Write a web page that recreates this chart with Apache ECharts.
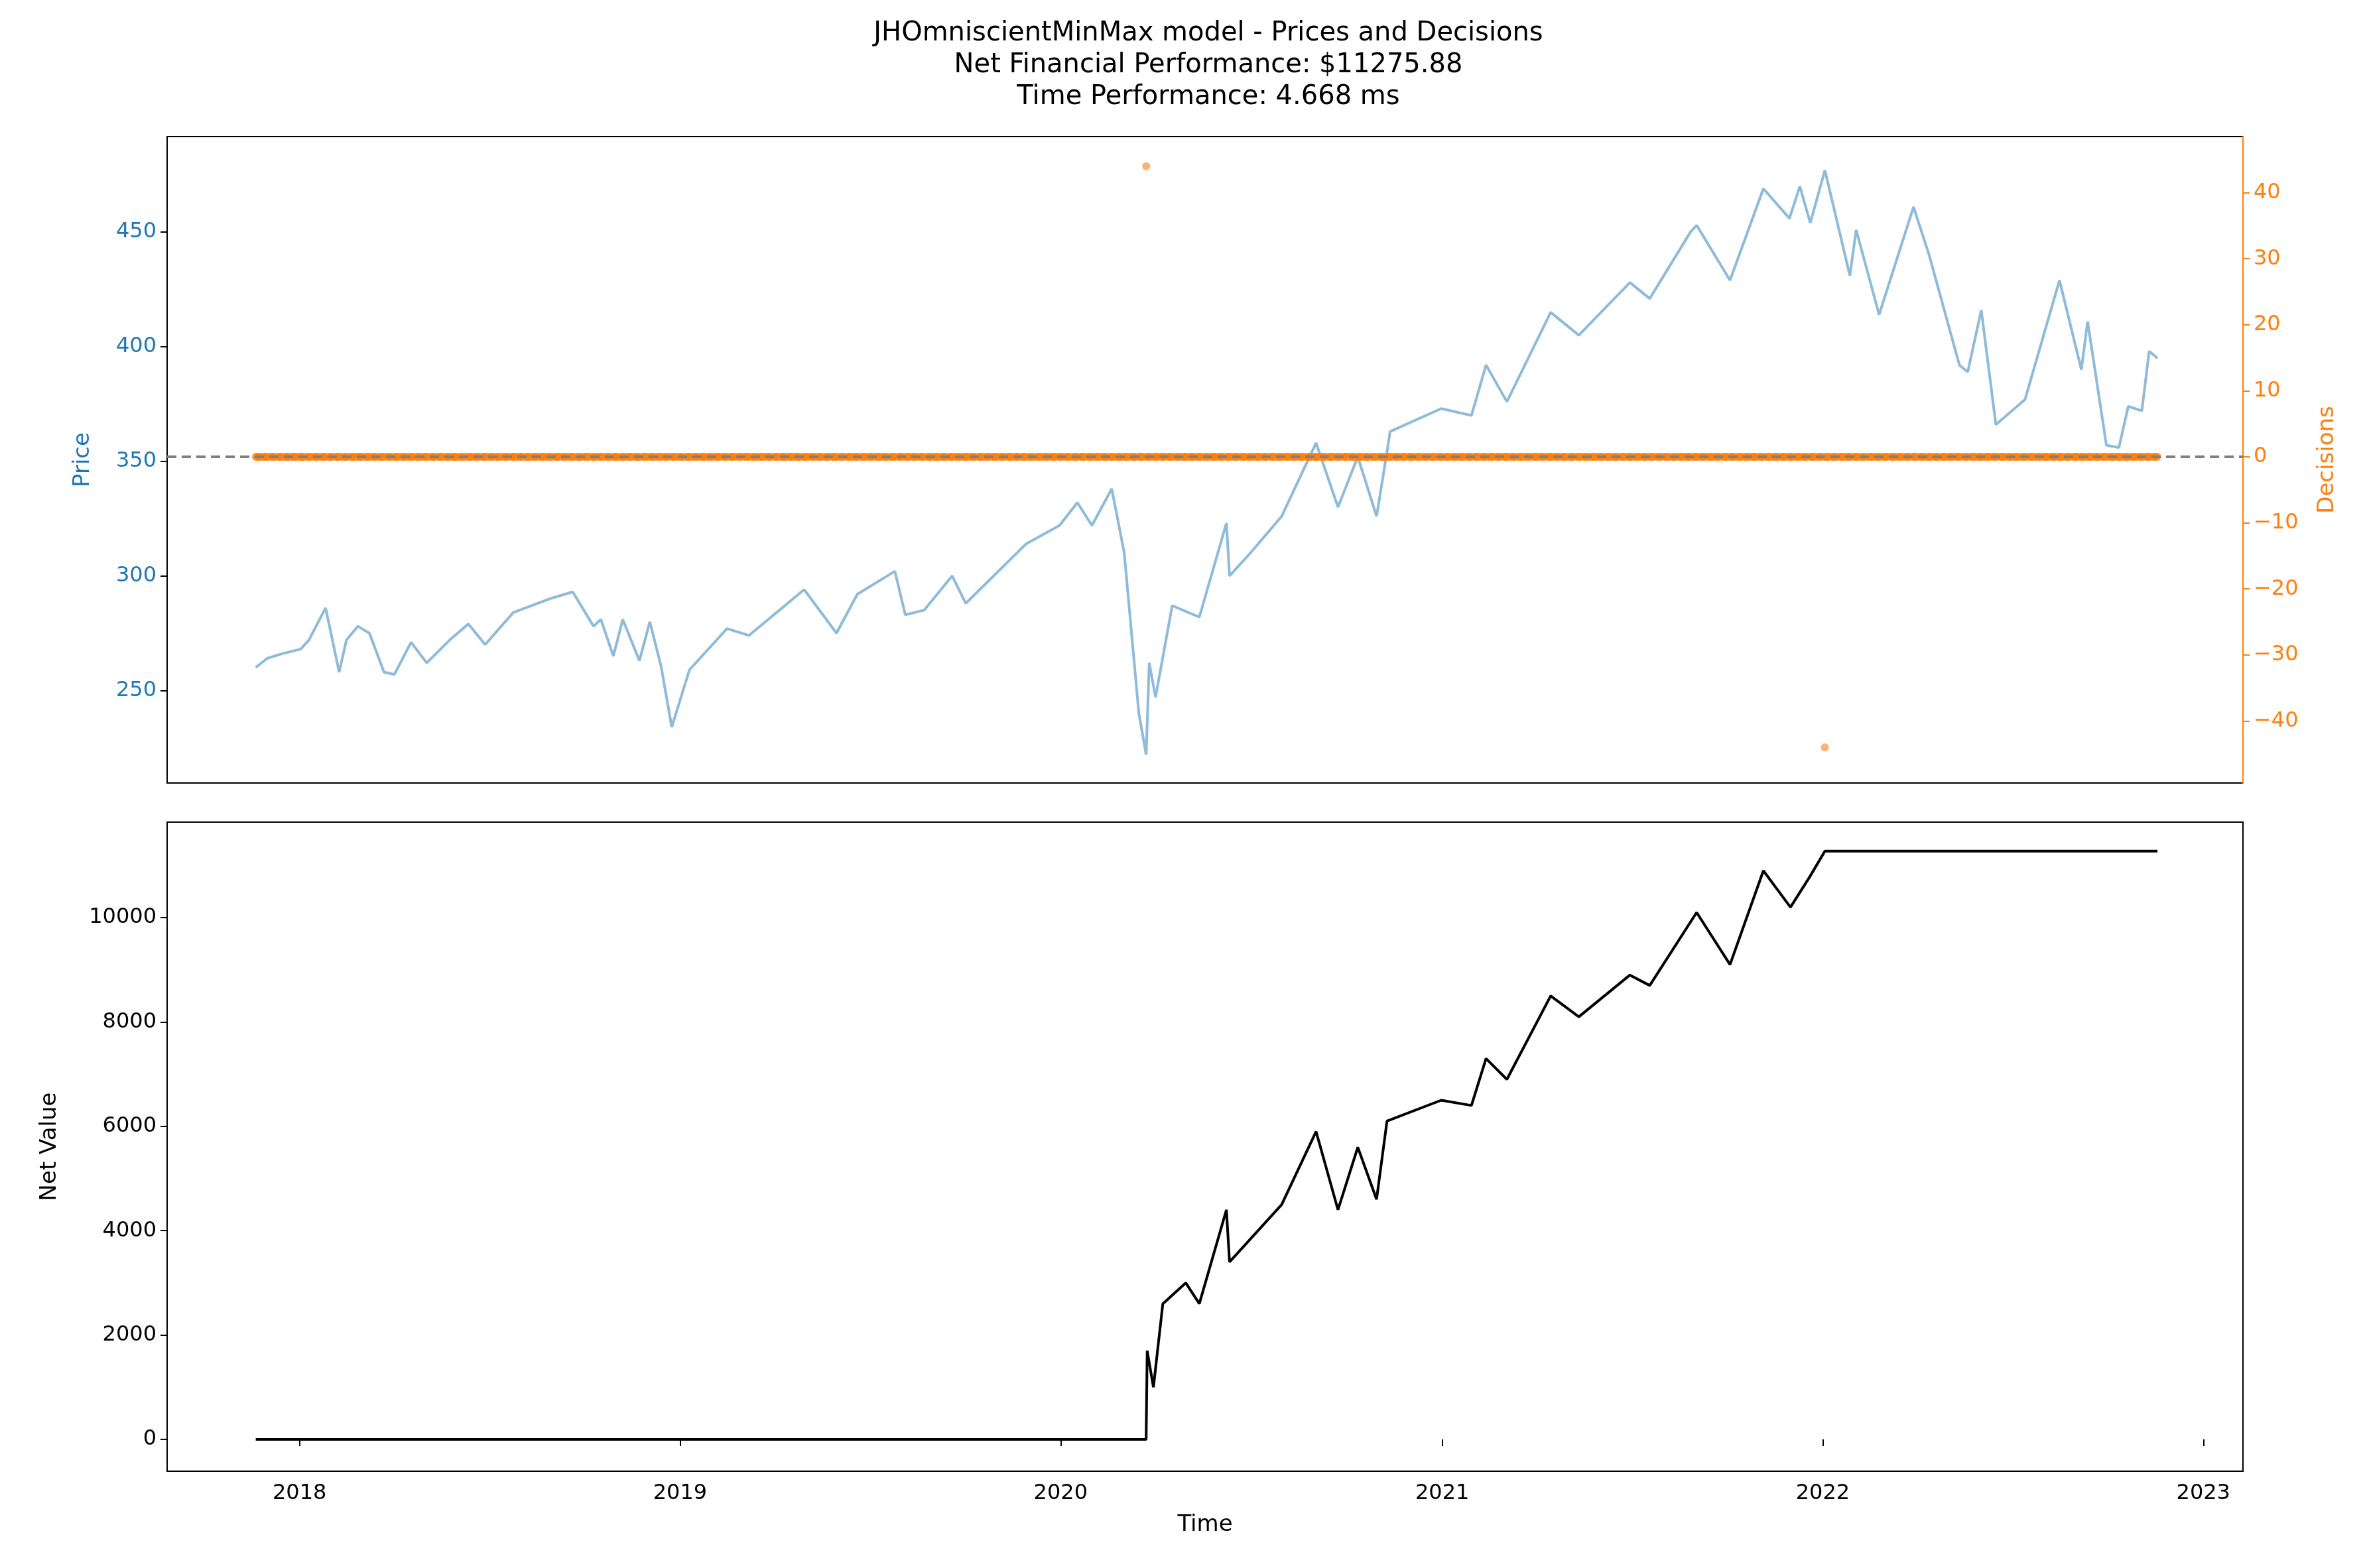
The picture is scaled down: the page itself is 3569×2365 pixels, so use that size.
<!DOCTYPE html>
<html><head><meta charset="utf-8">
<script src="https://cdn.jsdelivr.net/npm/echarts@6/dist/echarts.min.js"></script>
<style>html,body{margin:0;background:#fff}#c{width:3569px;height:2365px}</style>
</head><body><div id="c"></div>
<script>
// price series
var priceDates = ['2017-11-20','2017-12-01','2017-12-15','2018-01-02','2018-01-10','2018-01-26','2018-02-08','2018-02-15','2018-02-26','2018-03-09','2018-03-23','2018-04-02','2018-04-18','2018-05-03','2018-05-25','2018-06-12','2018-06-28','2018-07-25','2018-08-29','2018-09-20','2018-10-10','2018-10-17','2018-10-29','2018-11-07','2018-11-23','2018-12-03','2018-12-14','2018-12-24','2019-01-10','2019-02-15','2019-03-08','2019-04-30','2019-05-31','2019-06-20','2019-07-26','2019-08-05','2019-08-23','2019-09-19','2019-10-02','2019-11-29','2019-12-31','2020-01-17','2020-01-31','2020-02-19','2020-03-02','2020-03-09','2020-03-16','2020-03-23','2020-03-26','2020-04-01','2020-04-17','2020-05-13','2020-06-08','2020-06-11','2020-07-01','2020-07-31','2020-09-02','2020-09-23','2020-10-12','2020-10-30','2020-11-09','2020-11-12','2020-12-31','2021-01-29','2021-02-12','2021-03-04','2021-04-15','2021-05-12','2021-06-30','2021-07-19','2021-08-27','2021-09-02','2021-10-04','2021-11-05','2021-11-30','2021-12-10','2021-12-20','2022-01-03','2022-01-27','2022-02-02','2022-02-24','2022-03-29','2022-04-13','2022-05-12','2022-05-20','2022-06-02','2022-06-16','2022-07-14','2022-08-16','2022-09-06','2022-09-12','2022-09-30','2022-10-12','2022-10-21','2022-11-03','2022-11-10','2022-11-18'];
var priceValues = [260,264,266,268,272,286,258,272,278,275,258,257,271,262,272,279,270,284,290,293,278,281,265,281,263,280,260,234,259,277,274,294,275,292,302,283,285,300,288,314,322,332,322,338,310,275,240,222,262,247,287,282,323,300,310,326,358,330,352,326,354,363,373,370,392,376,415,405,428,421,450,453,429,469,456,470,454,477,431,451,414,461,440,392,389,416,366,377,429,390,411,357,356,374,372,398,395];

// non-zero decisions
var tradeDates = ['2020-03-23','2022-01-03'];
var tradeValues = [44,-44];

// net value
var netDates = ['2017-11-20','2020-03-23','2020-03-24','2020-03-30','2020-04-08','2020-04-30','2020-05-13','2020-06-08','2020-06-11','2020-07-31','2020-09-02','2020-09-23','2020-10-12','2020-10-30','2020-11-09','2020-12-31','2021-01-29','2021-02-12','2021-03-04','2021-04-15','2021-05-12','2021-06-30','2021-07-19','2021-09-02','2021-10-04','2021-11-05','2021-12-01','2021-12-20','2022-01-03','2022-11-18'];
var netValues = [0,0,1700,1000,2600,3000,2600,4400,3400,4500,5900,4400,5600,4600,6100,6500,6400,7300,6900,8500,8100,8900,8700,10100,9100,10900,10200,10800,11276,11276];

var yearTicks = [2018,2019,2020,2021,2022,2023];
var priceTicks = [250,300,350,400,450];
var decisionTicks = [-40,-30,-20,-10,0,10,20,30,40];
var netTicks = [0,2000,4000,6000,8000,10000];

function ts(d){ return new Date(d + 'T00:00:00Z').getTime(); }
function pairs(ds, vs){ return ds.map(function(d,i){ return [ts(d), vs[i]]; }); }

// decision is 0 on every trading day except the two trades
var decisionData = [];
for (var t = ts('2017-11-20'); t <= ts('2022-11-18'); t += 86400000) {
  var wd = new Date(t).getUTCDay();
  if (wd > 0 && wd < 6) decisionData.push([t, 0]);
}
decisionData = decisionData.concat(pairs(tradeDates, tradeValues));

var xmin = ts('2017-08-27'), xmax = ts('2023-02-08');
var tickVals = yearTicks.map(function(y){ return ts(y + '-01-01'); });
var font = 'DejaVu Sans';
var lab = {fontFamily: font, fontSize: 32, color: '#000'};
var tick = {show: true, length: 10, lineStyle: {color: '#000', width: 2}};
function plain(v){ return String(v).replace('-', '\u2212'); }

var chart = echarts.init(document.getElementById('c'));
chart.setOption({
  animation: false,
  title: {
    text: 'JHOmniscientMinMax model - Prices and Decisions\nNet Financial Performance: $11275.88\nTime Performance: 4.668 ms',
    left: 1817, top: 22, textAlign: 'center',
    textStyle: {fontFamily: font, fontSize: 40, fontWeight: 'normal', lineHeight: 48, color: '#000'}
  },
  grid: [
    {left: 252, width: 3130, top: 206, height: 975, show: true, borderColor: '#000', borderWidth: 2, backgroundColor: 'transparent'},
    {left: 252, width: 3130, top: 1240, height: 979, show: true, borderColor: '#000', borderWidth: 2, backgroundColor: 'transparent'}
  ],
  xAxis: [
    {type: 'value', gridIndex: 0, min: xmin, max: xmax, axisLine: {show: false}, axisTick: {show: false}, axisLabel: {show: false}, splitLine: {show: false}},
    {type: 'value', gridIndex: 1, min: xmin, max: xmax, name: 'Time', nameLocation: 'middle', nameGap: 64,
     nameTextStyle: {fontFamily: font, fontSize: 34, color: '#000'},
     axisLine: {show: false}, splitLine: {show: false},
     axisTick: Object.assign({customValues: tickVals}, tick),
     axisLabel: Object.assign({margin: 18, customValues: tickVals, formatter: function(v){ return new Date(v).getUTCFullYear(); }}, lab)}
  ],
  yAxis: [
    {type: 'value', gridIndex: 0, min: 209.6, max: 491.7, name: 'Price', nameLocation: 'middle', nameGap: 110,
     nameTextStyle: {fontFamily: font, fontSize: 34, color: '#1f77b4'},
     axisLine: {show: false}, splitLine: {show: false},
     axisTick: Object.assign({customValues: priceTicks}, tick),
     axisLabel: Object.assign({}, lab, {color: '#1f77b4', margin: 16, customValues: priceTicks, formatter: plain})},
    {type: 'value', gridIndex: 0, position: 'right', min: -49.4, max: 48.5, name: 'Decisions', nameLocation: 'middle', nameGap: 110, nameRotate: 90,
     nameTextStyle: {fontFamily: font, fontSize: 34, color: '#ff7f0e'},
     axisLine: {show: true, lineStyle: {color: '#ff7f0e', width: 2}}, splitLine: {show: false},
     axisTick: {show: true, length: 10, lineStyle: {color: '#ff7f0e', width: 2}, customValues: decisionTicks},
     axisLabel: Object.assign({}, lab, {color: '#ff7f0e', margin: 16, customValues: decisionTicks, formatter: plain})},
    {type: 'value', gridIndex: 1, min: -610, max: 11831, name: 'Net Value', nameLocation: 'middle', nameGap: 160,
     nameTextStyle: {fontFamily: font, fontSize: 34, color: '#000'},
     axisLine: {show: false}, splitLine: {show: false},
     axisTick: Object.assign({customValues: netTicks}, tick),
     axisLabel: Object.assign({}, lab, {margin: 16, customValues: netTicks, formatter: plain})}
  ],
  series: [
    {type: 'line', xAxisIndex: 0, yAxisIndex: 0, data: pairs(priceDates, priceValues), showSymbol: false,
     lineStyle: {color: '#1f77b4', width: 4, opacity: 0.5}, z: 2},
    {type: 'scatter', xAxisIndex: 0, yAxisIndex: 1, data: decisionData, symbolSize: 12,
     itemStyle: {color: '#ff7f0e', opacity: 0.6}, z: 3,
     markLine: {silent: true, symbol: 'none', label: {show: false},
       lineStyle: {color: '#7f7f7f', type: [14, 8], width: 4}, data: [{yAxis: 0}]}},
    {type: 'line', xAxisIndex: 1, yAxisIndex: 2, data: pairs(netDates, netValues), showSymbol: false,
     lineStyle: {color: '#000', width: 4}}
  ]
});
</script></body></html>
